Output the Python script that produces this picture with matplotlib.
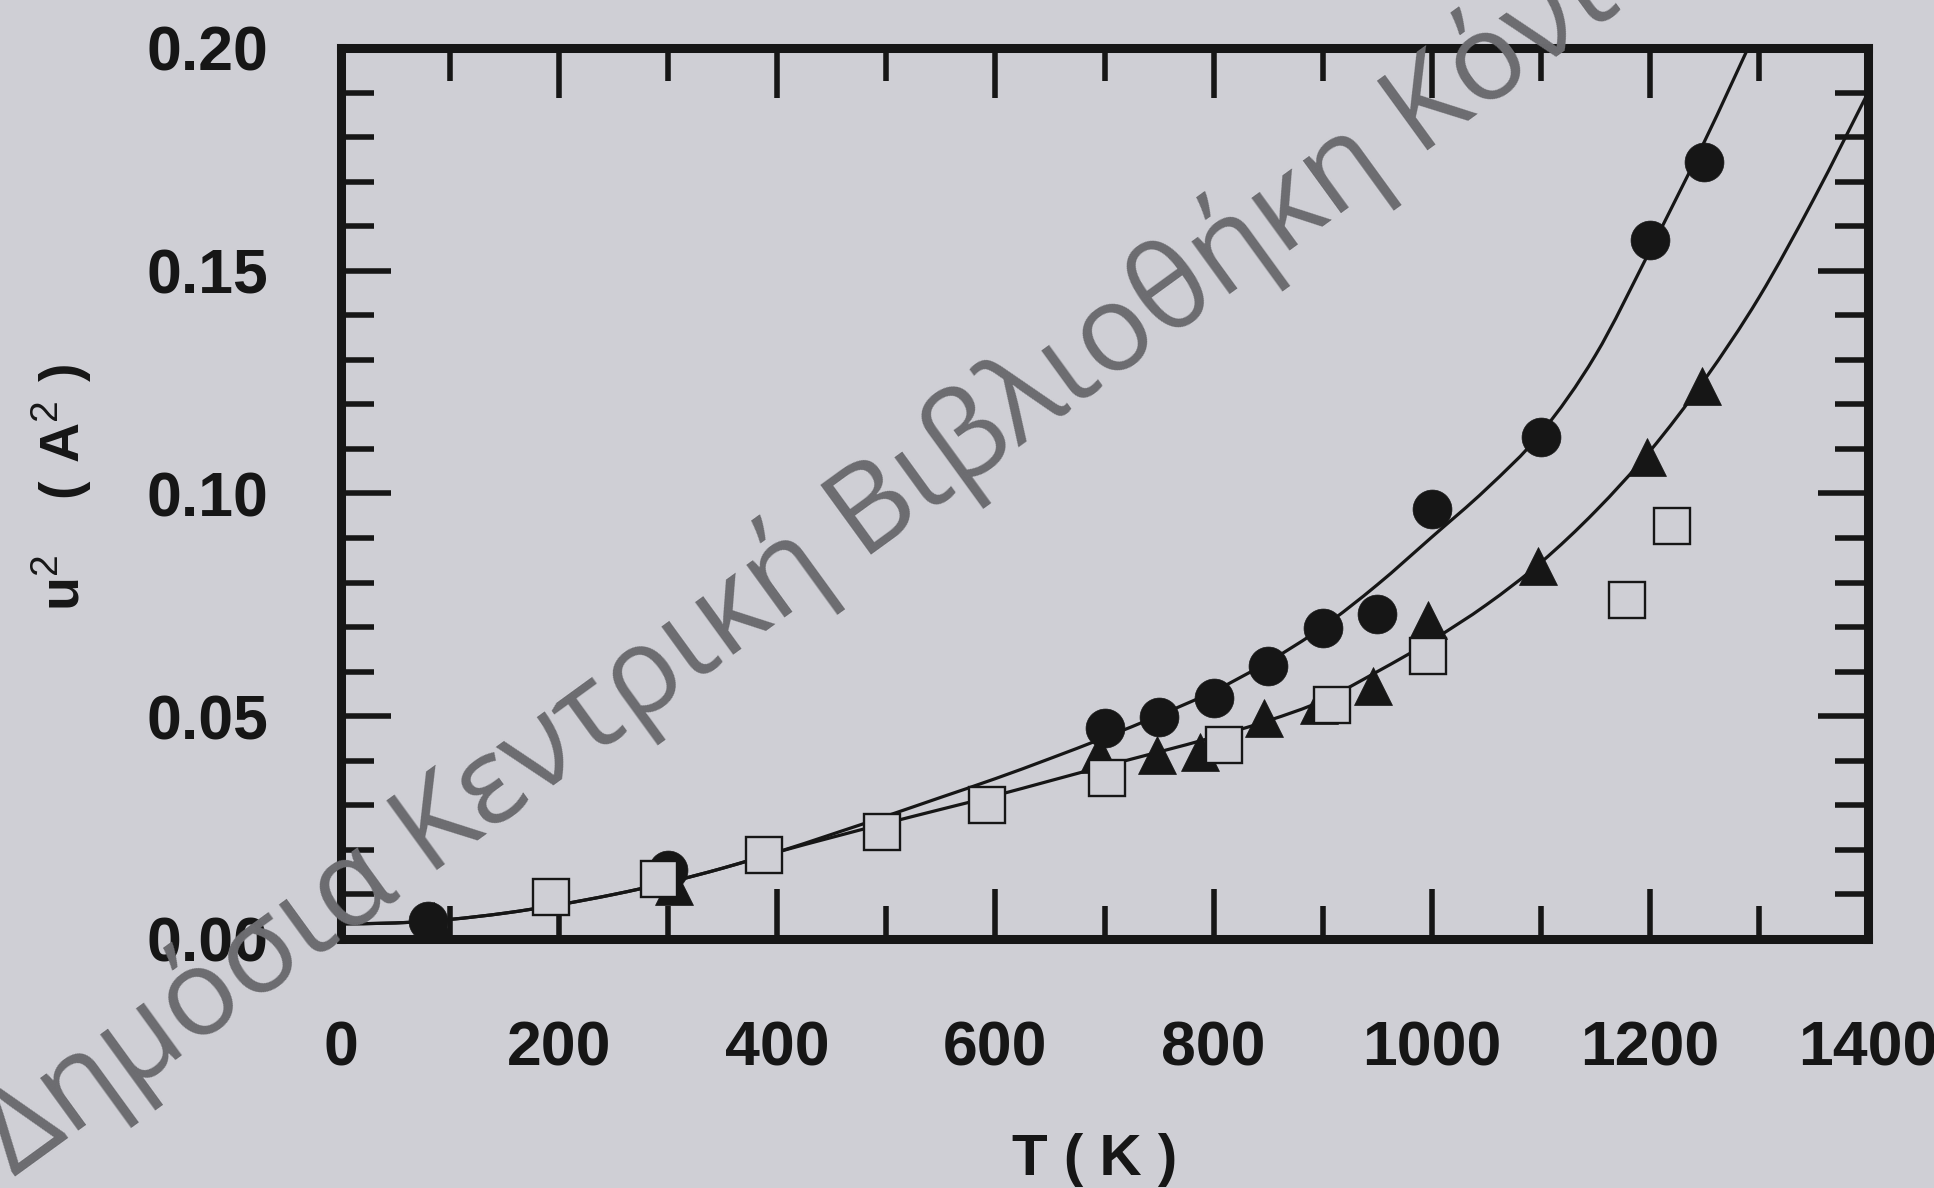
import matplotlib
matplotlib.use("Agg")
import matplotlib.pyplot as plt
from matplotlib.ticker import MultipleLocator
from matplotlib.path import Path
from matplotlib.patches import PathPatch

plt.rcParams['font.family'] = ['Liberation Sans', 'DejaVu Sans']
plt.rcParams['mathtext.fontset'] = 'custom'
plt.rcParams['mathtext.rm'] = 'Liberation Sans'
plt.rcParams['mathtext.bf'] = 'Liberation Sans:bold'

BG = '#cfcfd5'
INK = '#161616'

# Measured mean-square displacement u^2 (A^2) versus temperature T (K)
circle_T = [80, 300, 700, 750, 800, 850, 900, 950, 1000, 1100, 1200, 1250]
circle_u = [0.0040, 0.0155, 0.0473, 0.0499, 0.0540, 0.0612, 0.0697, 0.0730,
            0.0966, 0.1127, 0.1570, 0.1745]

triangle_T = [85, 305, 695, 748, 788, 846, 897, 946, 997, 1097, 1197, 1248]
triangle_u = [0.0040, 0.0120, 0.0415, 0.0414, 0.0420, 0.0496, 0.0525, 0.0568,
              0.0717, 0.0837, 0.1082, 0.1241]

square_T = [193, 292, 388, 496, 592, 702, 810, 909, 997, 1179, 1220]
square_u = [0.0095, 0.0134, 0.0189, 0.0241, 0.0301, 0.0361, 0.0435, 0.0525,
            0.0635, 0.0760, 0.0927]

# Fitted curves through the filled-circle and filled-triangle data
fit_upper_T = [0, 50, 100, 150, 200, 250, 300, 350, 400, 450, 500, 550, 600,
               650, 700, 750, 800, 850, 900, 950, 1000, 1050, 1100, 1150,
               1200, 1250, 1290]
fit_upper_u = [0.0034, 0.0036, 0.0044, 0.0058, 0.0077, 0.0100, 0.0127,
               0.0159, 0.0195, 0.0235, 0.0276, 0.0318, 0.0360, 0.0405,
               0.0452, 0.0502, 0.0556, 0.0622, 0.0700, 0.0795, 0.0902,
               0.1010, 0.1135, 0.1310, 0.1545, 0.1790, 0.2000]

fit_lower_T = [0, 50, 100, 150, 200, 250, 300, 350, 400, 450, 500, 550, 600,
               650, 700, 750, 800, 850, 900, 950, 1000, 1050, 1100, 1150,
               1200, 1250, 1300, 1350, 1400]
fit_lower_u = [0.0034, 0.0036, 0.0044, 0.0058, 0.0077, 0.0100, 0.0127,
               0.0159, 0.0195, 0.0228, 0.0260, 0.0291, 0.0322, 0.0355,
               0.0388, 0.0420, 0.0453, 0.0490, 0.0535, 0.0600, 0.0670,
               0.0750, 0.0845, 0.0960, 0.1095, 0.1255, 0.1440, 0.1660,
               0.1900]

x_ticks = [0, 200, 400, 600, 800, 1000, 1200, 1400]
y_ticks = [0.00, 0.05, 0.10, 0.15, 0.20]


def smooth_path(xs, ys):
    """Cubic Bezier path passing through every given point (Catmull-Rom)."""
    pts = list(zip(xs, ys))
    n = len(pts)
    verts = [pts[0]]
    codes = [Path.MOVETO]
    for i in range(n - 1):
        p0 = pts[max(i - 1, 0)]
        p1 = pts[i]
        p2 = pts[i + 1]
        p3 = pts[min(i + 2, n - 1)]
        c1 = (p1[0] + (p2[0] - p0[0]) / 6.0, p1[1] + (p2[1] - p0[1]) / 6.0)
        c2 = (p2[0] - (p3[0] - p1[0]) / 6.0, p2[1] - (p3[1] - p1[1]) / 6.0)
        verts += [c1, c2, p2]
        codes += [Path.CURVE4] * 3
    return Path(verts, codes)


fig = plt.figure(figsize=(19.34, 11.88), dpi=100, facecolor=BG)
ax = fig.add_axes([0.1763, 0.2096, 0.7896, 0.7500], facecolor=BG)

for fx, fy in ((fit_upper_T, fit_upper_u), (fit_lower_T, fit_lower_u)):
    ax.add_patch(PathPatch(smooth_path(fx, fy), transform=ax.transData,
                           facecolor='none', edgecolor=INK, lw=2.3,
                           zorder=2))

ax.plot(triangle_T, triangle_u, ls='none', marker='^', ms=28,
        mfc=INK, mec=INK, mew=0.5, zorder=3)
ax.plot(circle_T, circle_u, ls='none', marker='o', ms=28,
        mfc=INK, mec=INK, mew=0.5, zorder=4)
ax.plot(square_T, square_u, ls='none', marker='s', ms=26,
        mfc=BG, mec=INK, mew=1.7, zorder=5)

ax.set_xlim(0, 1400)
ax.set_ylim(0, 0.20)
ax.set_xticks(x_ticks)
ax.set_yticks(y_ticks)
ax.set_xticklabels([str(v) for v in x_ticks])
ax.set_yticklabels([f"{v:.2f}" for v in y_ticks])
ax.xaxis.set_minor_locator(MultipleLocator(100))
ax.yaxis.set_minor_locator(MultipleLocator(0.01))

for side in ax.spines.values():
    side.set_linewidth(6.5)
    side.set_color(INK)
    side.set_capstyle('projecting')

ax.tick_params(which='both', direction='in', top=True, right=True,
               color=INK, width=4)
ax.tick_params(which='major', length=36)
ax.tick_params(which='minor', length=24)
ax.tick_params(axis='x', which='major', pad=58, labelsize=45)
ax.tick_params(axis='y', which='major', pad=52, labelsize=45)
for lab in ax.get_xticklabels() + ax.get_yticklabels():
    lab.set_fontweight('bold')
    lab.set_color(INK)

fig.text(1095 / 1934, 1 - 1160 / 1188, 'T ( K )', ha='center', va='center',
         fontsize=42, fontweight='bold', color=INK)
fig.text(62 / 1934, 1 - 487 / 1188,
         r'$\mathbf{u}^{2}\quad\mathbf{(\ A}^{2}\mathbf{\ )}$',
         rotation=90, ha='center', va='center', fontsize=40, color=INK)

# Library stamp across the page
fig.text(14 / 1934, 1 - 1178 / 1188, 'Δημόσια Κεντρική Βιβλιοθήκη Κόνιτσας',
         rotation=36, rotation_mode='anchor', ha='left', va='baseline',
         fontsize=87, family=['Open Sans', 'DejaVu Sans'], color='#6c6c70',
         zorder=10)

fig.savefig('out.png', dpi=100, facecolor=BG)
